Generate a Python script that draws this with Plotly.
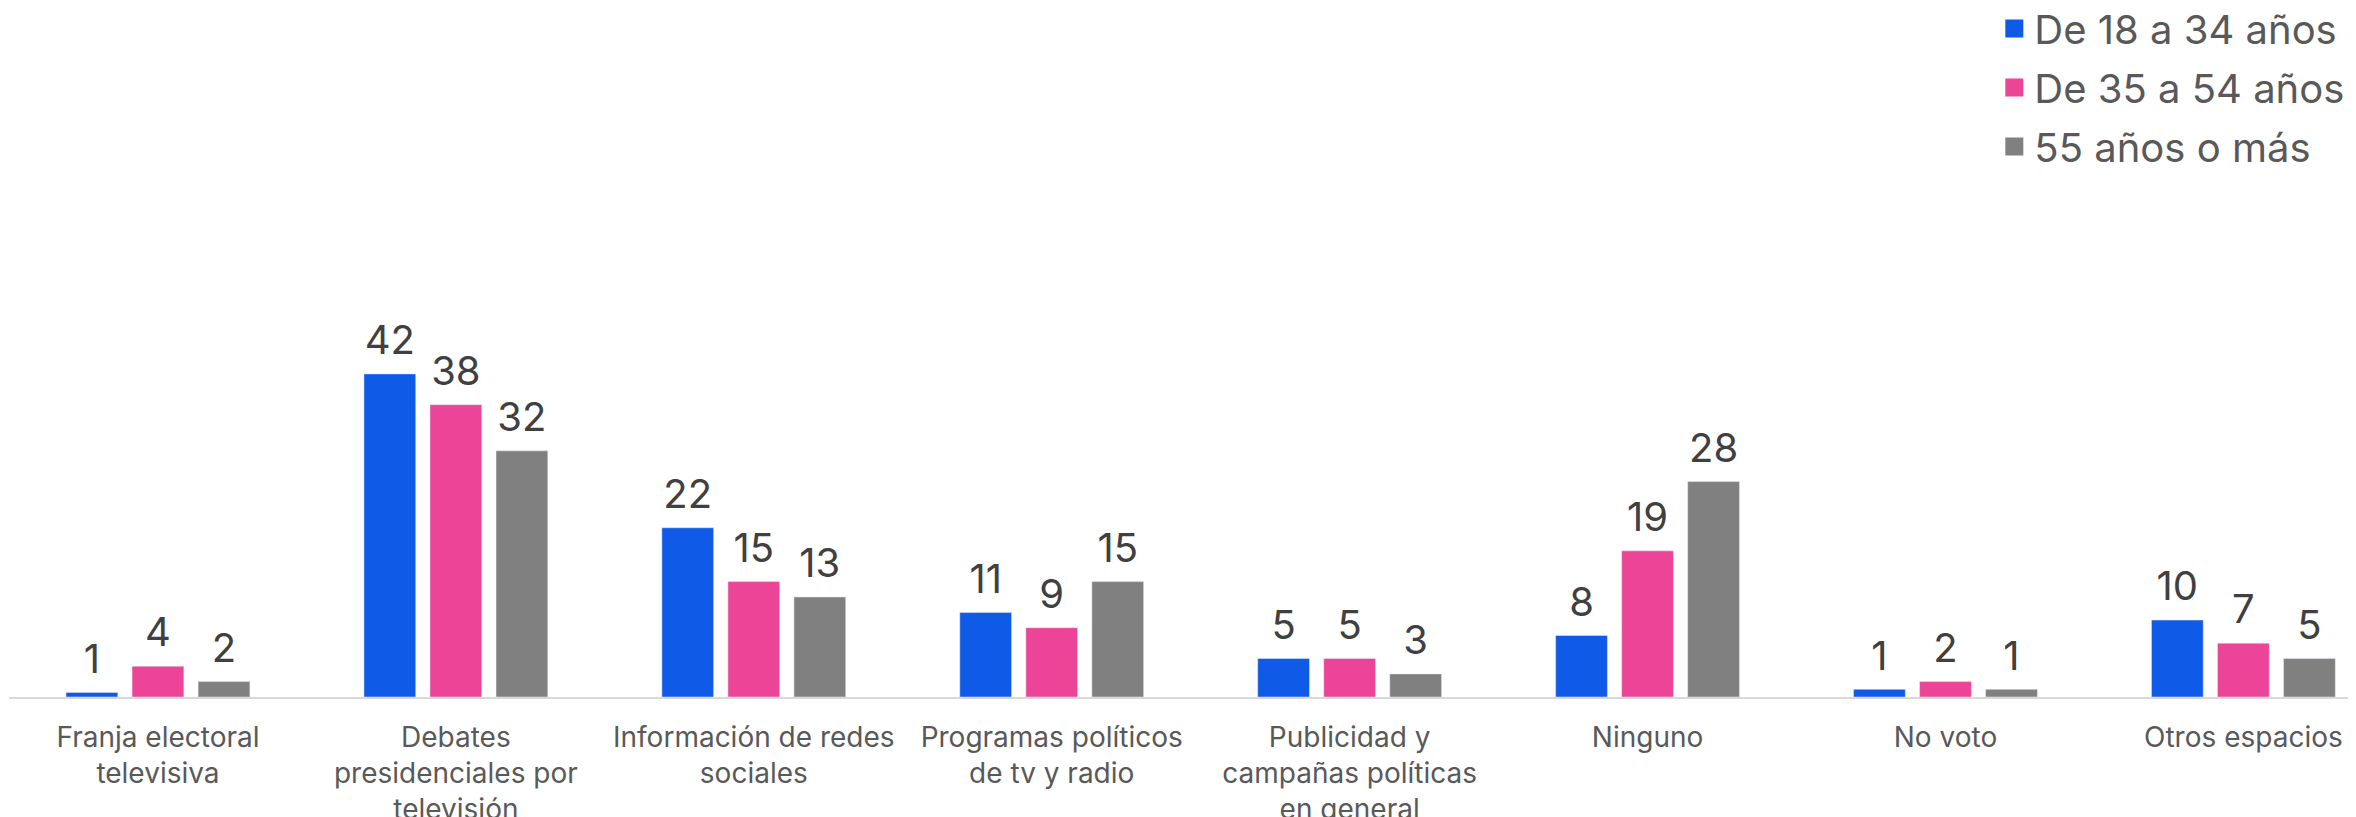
import plotly.graph_objects as go

categorias = [
    'Franja electoral<br>televisiva',
    'Debates<br>presidenciales por<br>televisión',
    'Información de redes<br>sociales',
    'Programas políticos<br>de tv y radio',
    'Publicidad y<br>campañas políticas<br>en general',
    'Ninguno',
    'No voto',
    'Otros espacios',
]
edad_18_34 = [0.6, 42, 22, 11, 5, 8, 1, 10]
edad_35_54 = [4, 38, 15, 9, 5, 19, 2, 7]
edad_55_mas = [2, 32, 13, 15, 3, 28, 1, 5]

series = [
    ('De 18 a 34 años', edad_18_34, '#0f5ae6'),
    ('De 35 a 54 años', edad_35_54, '#ec4497'),
    ('55 años o más', edad_55_mas, '#808080'),
]

fig = go.Figure()
for i, (nombre, valores, color) in enumerate(series):
    fig.add_bar(
        x=categorias, y=valores, name=nombre,
        marker_color=color, showlegend=False,
        offsetgroup=str(i), hoverinfo='skip',
    )
    # etiquetas de valor, agrupadas igual que las barras
    fig.add_scatter(
        x=categorias, y=valores, mode='markers+text',
        text=[f'{v:.0f}' for v in valores], textposition='top center',
        textfont=dict(size=40, color='#404040'),
        marker=dict(size=14, opacity=0),
        offsetgroup=str(i), showlegend=False, cliponaxis=False,
        hovertemplate=nombre + ': %{y}<extra></extra>',
    )
    # entrada de leyenda
    fig.add_scatter(
        x=[None], y=[None], mode='markers', name=nombre,
        legendgroup=nombre, offsetgroup=str(i),
        marker=dict(symbol='square', size=16, color=color,
                    line=dict(width=2, color=color)),
    )

fig.update_layout(
    width=2348, height=809,
    margin=dict(l=1, r=0, t=12, b=120, autoexpand=False),
    plot_bgcolor='white', paper_bgcolor='white',
    font=dict(family='Inter', color='#595959'),
    barmode='group', bargap=0.335, bargroupgap=0.216,
    scattermode='group', scattergap=0.335,
    showlegend=True,
    legend=dict(
        x=0.8459, xanchor='left', y=1.0354, yanchor='top',
        font=dict(size=40, color='#595959'),
        tracegroupgap=4, bgcolor='rgba(0,0,0,0)',
    ),
)
fig.update_xaxes(
    range=[-0.5, 7.378], automargin=False,
    showline=True, linecolor='#d9d9d9', linewidth=2,
    ticks='outside', ticklen=14, tickcolor='rgba(0,0,0,0)',
    tickfont=dict(size=28, color='#595959'),
    tickangle=0,
)
fig.update_yaxes(range=[0, 88], visible=False, showgrid=False)

fig.write_html('out.html')
